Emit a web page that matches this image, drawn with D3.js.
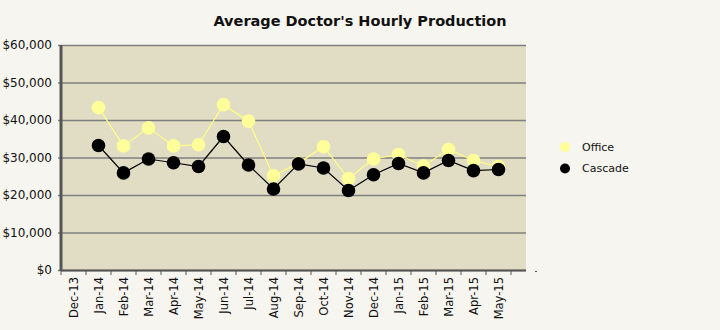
<!DOCTYPE html>
<html>
<head>
<meta charset="utf-8">
<script src="https://cdn.jsdelivr.net/npm/d3@7"></script>
<style>
  html, body { margin: 0; padding: 0; background: #f7f5ef; }
  svg { display: block; font-family: "DejaVu Sans", sans-serif; }
</style>
</head>
<body>
<svg id="chart" width="720" height="330"></svg>
<script>
// Monthly categories (Dec-13 has no data)
const months = ["Dec-13","Jan-14","Feb-14","Mar-14","Apr-14","May-14","Jun-14","Jul-14",
  "Aug-14","Sep-14","Oct-14","Nov-14","Dec-14","Jan-15","Feb-15","Mar-15","Apr-15","May-15"];
const officeValues = [null,43300,33100,37900,33100,33400,44100,39700,25100,28500,32900,24400,
  29600,30800,27700,32200,29200,27600];
const cascadeValues = [null,33200,25900,29600,28600,27600,35600,28000,21600,28300,27200,21200,
  25400,28400,25900,29200,26500,26800];
const yTicks = [0,10000,20000,30000,40000,50000,60000];
const seriesNames = ["Office","Cascade"];
const seriesColors = ["#ffff99","#000000"];
const lineColors = ["#ffff80","#000000"];

const svg = d3.select("#chart");
const plotLeft = 61, bandRight = 511, plotRight = 526, plotTop = 45, plotBottom = 270;

const x = d3.scaleBand().domain(months).range([plotLeft, bandRight]).paddingInner(0).paddingOuter(0);
const y = d3.scaleLinear().domain([0, 60000]).range([plotBottom, plotTop]);

// plot background
svg.append("rect").attr("x", plotLeft).attr("y", plotTop)
  .attr("width", plotRight - plotLeft).attr("height", plotBottom - plotTop).attr("fill", "#e1ddc4");

// gridlines + y labels
const yAxis = d3.axisLeft(y).tickValues(yTicks)
  .tickSize(-(plotRight - plotLeft + 3)).tickPadding(6)
  .tickFormat(d => "$" + d3.format(",")(d));
const gy = svg.append("g").attr("transform", `translate(${plotLeft - 3},0)`).call(yAxis);
gy.select(".domain").remove();
gy.selectAll(".tick line").attr("stroke", "#7f7f7f").attr("stroke-width", 1.5);
gy.selectAll(".tick text").attr("font-size", 12).attr("fill", "#111")
  .attr("font-family", "DejaVu Sans, sans-serif");

// left axis line
svg.append("line").attr("x1", plotLeft).attr("x2", plotLeft).attr("y1", plotTop).attr("y2", plotBottom + 1)
  .attr("stroke", "#555").attr("stroke-width", 3);

// bottom axis with rotated month labels
const xAxis = d3.axisBottom(x).tickSize(0).tickPadding(0);
const gx = svg.append("g").attr("transform", `translate(0,${plotBottom})`).call(xAxis);
gx.select(".domain").remove();
gx.selectAll(".tick text")
  .attr("font-size", 11.5).attr("fill", "#111")
  .attr("font-family", "DejaVu Sans, sans-serif")
  .attr("text-anchor", "end")
  .attr("x", 0).attr("y", 0)
  .attr("transform", "rotate(-90)")
  .attr("dx", -7).attr("dy", "0.35em");

svg.append("line").attr("x1", plotLeft).attr("x2", plotRight).attr("y1", plotBottom + 0.5).attr("y2", plotBottom + 0.5)
  .attr("stroke", "#555").attr("stroke-width", 2);
// category boundary ticks
const boundaries = months.map(m => x(m)).concat([bandRight]);
svg.append("g").selectAll("line").data(boundaries).join("line")
  .attr("x1", d => d).attr("x2", d => d).attr("y1", plotBottom).attr("y2", plotBottom + 5)
  .attr("stroke", "#555").attr("stroke-width", 1);
svg.append("line").attr("x1", plotRight + 9).attr("x2", plotRight + 11)
  .attr("y1", plotBottom + 1.5).attr("y2", plotBottom + 1.5).attr("stroke", "#555").attr("stroke-width", 1);

// series lines and markers
const cx = m => x(m) + x.bandwidth() / 2;
[officeValues, cascadeValues].forEach((vals, i) => {
  const pts = months.map((m, j) => ({ m, v: vals[j] })).filter(d => d.v != null);
  const line = d3.line().x(d => cx(d.m)).y(d => y(d.v));
  svg.append("path").datum(pts).attr("d", line).attr("fill", "none")
    .attr("stroke", lineColors[i]).attr("stroke-width", 1.2);
  svg.append("g").selectAll("circle").data(pts).join("circle")
    .attr("cx", d => cx(d.m)).attr("cy", d => y(d.v)).attr("r", 6.8)
    .attr("fill", seriesColors[i]);
});

// title
svg.append("text").attr("x", 360).attr("y", 26).attr("text-anchor", "middle")
  .attr("font-size", 14.5).attr("font-weight", "bold").attr("fill", "#111")
  .text("Average Doctor's Hourly Production");

// legend
const lg = svg.append("g").attr("transform", "translate(565,147)");
seriesNames.forEach((name, i) => {
  lg.append("circle").attr("cx", 0).attr("cy", i * 21.5).attr("r", 5).attr("fill", seriesColors[i]);
  lg.append("text").attr("x", 17).attr("y", i * 21.5).attr("dy", "0.35em")
    .attr("font-size", 11).attr("fill", "#111").text(name);
});
</script>
</body>
</html>
